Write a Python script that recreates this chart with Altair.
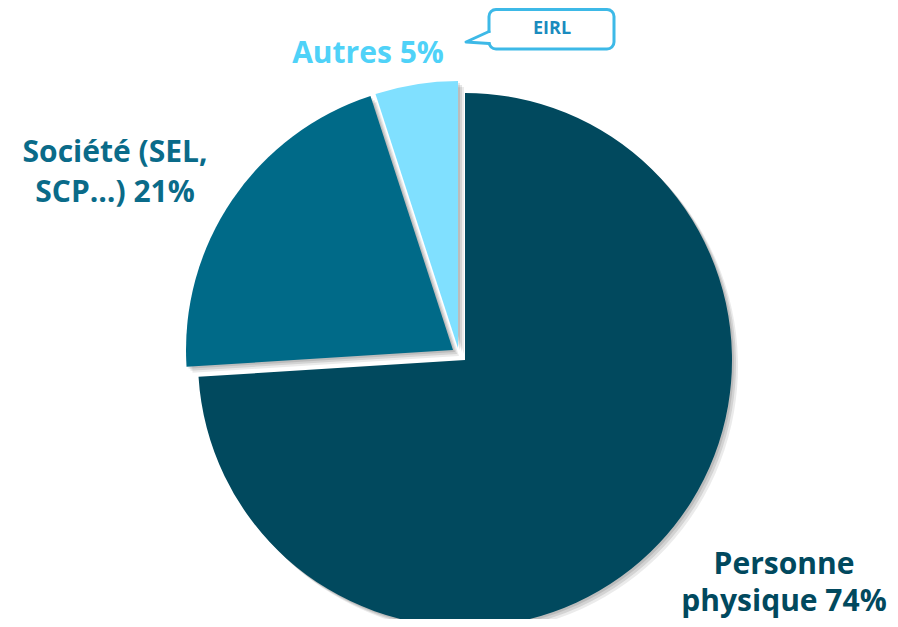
import altair as alt
import pandas as pd

# ---- data ----
categories = ["Personne physique", "Société (SEL, SCP…)", "Autres"]
values = [74, 21, 5]
order = [1, 2, 3]
slice_colors = ["#01495E", "#006A88", "#80E0FF"]
label_texts = ["Personne\nphysique 74%", "Société (SEL,\nSCP…) 21%", "Autres 5%"]
label_colors = ["#01495E", "#0A6B89", "#4FD2F8"]
callout_text = "EIRL"

df = pd.DataFrame({"cat": categories, "value": values, "order": order, "color": slice_colors})

W, H = 882, 611
CX, CY = 457, 352
R = 267
FONT = "Open Sans"

base = alt.Chart(df).transform_stack(
    stack="value", groupby=[], as_=["v0", "v1"],
    sort=[alt.SortField("order", order="ascending")]
)
theta = alt.Theta("v0:Q", scale=alt.Scale(domain=[0, 100]))

# explode offsets per slice (style)
offsets = {categories[0]: (0, 0), categories[1]: (-12, -10), categories[2]: (-7, -12)}

layers = []
for cat in categories:
    dx, dy = offsets[cat]
    sub = base.transform_filter(alt.datum.cat == cat)
    # soft drop shadow
    for k, op in [(2, 0.10), (4, 0.10), (6, 0.08)]:
        layers.append(sub.mark_arc(radius=R, color="#000000", opacity=op,
                                   xOffset=dx + k, yOffset=dy + k).encode(
            theta=theta, theta2="v1:Q", x=alt.value(CX), y=alt.value(CY)))
    layers.append(sub.mark_arc(radius=R, xOffset=dx, yOffset=dy).encode(
        theta=theta, theta2="v1:Q",
        color=alt.Color("color:N", scale=None),
        x=alt.value(CX), y=alt.value(CY)))

# labels
label_pos = [(776, 566), (107, 154), (360, 55)]
label_lh = [37, 40, 40]
for txt, col, (lx, ly), lh in zip(label_texts, label_colors, label_pos, label_lh):
    layers.append(alt.Chart(pd.DataFrame({"t": [txt]})).mark_text(
        font=FONT, fontSize=30, fontWeight="bold", color=col, align="center",
        baseline="alphabetic", lineBreak="\n", lineHeight=lh).encode(
        text="t:N", x=alt.value(lx), y=alt.value(ly)))

# callout box
cdf = pd.DataFrame({"t": [callout_text]})
layers.append(alt.Chart(cdf).mark_rect(fill="white", stroke="#3DB9E7", strokeWidth=3,
                                       cornerRadius=7).encode(
    x=alt.value(481), x2=alt.value(606), y=alt.value(1.5), y2=alt.value(41)))
layers.append(alt.Chart(cdf).mark_rule(color="white", strokeWidth=5).encode(
    x=alt.value(481), y=alt.value(25), y2=alt.value(34)))
tail = pd.DataFrame({"px": [481, 458, 481], "py": [23.5, 34, 35.5], "o": [0, 1, 2]})
layers.append(alt.Chart(tail).mark_line(color="#3DB9E7", strokeWidth=3,
                                        strokeJoin="round", strokeCap="round").encode(
    x=alt.X("px:Q", scale=None), y=alt.Y("py:Q", scale=None), order="o:Q"))
layers.append(alt.Chart(cdf).mark_text(font=FONT, fontSize=18, fontWeight="bold",
                                       color="#1A8BBE", align="center",
                                       baseline="middle").encode(
    text="t:N", x=alt.value(544), y=alt.value(21)))

chart = alt.layer(*layers).properties(
    width=W, height=H, padding=0,
    autosize=alt.AutoSizeParams(type="none")
).configure_view(stroke=None)

chart.save("out.html", embed_options={"renderer": "svg", "actions": False})
